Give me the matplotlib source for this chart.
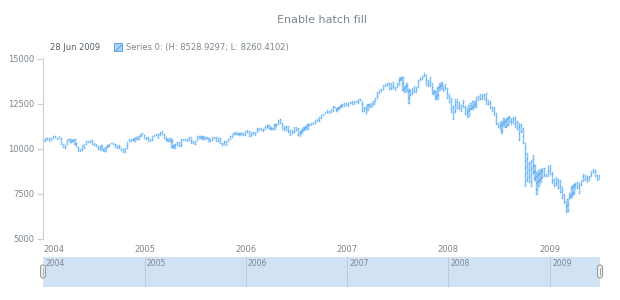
import matplotlib.pyplot as plt
import matplotlib.patches as mpatches
from matplotlib.transforms import IdentityTransform
import numpy as np
import pandas as pd

# weekly high / low values (week start Sunday), Jan 2004 - Jun 2009
highs_2004 = [10490, 10620, 10630, 10600, 10620, 10740, 10720, 10630, 10700, 10600, 10300, 10230, 10480,
              10580, 10530, 10520, 10570, 10320, 10110, 10010, 10200, 10260, 10440, 10440, 10480, 10480,
              10310, 10280, 10180, 10150, 10200, 10000, 10110, 10230, 10290, 10360, 10340, 10300, 10200,
              10240, 10080, 9980, 10040, 10400, 10560, 10580, 10540, 10600, 10640, 10730, 10840, 10870]
lows_2004 = [10380, 10400, 10520, 10410, 10440, 10560, 10600, 10520, 10530, 10210, 10080, 10000, 10200,
             10430, 10330, 10400, 10220, 10110, 9860, 9850, 9900, 10020, 10240, 10320, 10330, 10240,
             10160, 10100, 9950, 9890, 9950, 9810, 9820, 10080, 10120, 10250, 10220, 10040, 9990,
             10010, 9880, 9750, 9750, 10020, 10380, 10400, 10430, 10400, 10480, 10520, 10640, 10760]

highs_2005 = [10800, 10680, 10640, 10530, 10730, 10800, 10840, 10850, 10950, 10980, 10860, 10690, 10560,
              10600, 10560, 10240, 10250, 10400, 10390, 10530, 10540, 10570, 10540, 10650, 10650, 10450,
              10460, 10700, 10710, 10730, 10720, 10680, 10650, 10600, 10530, 10690, 10690, 10680, 10600,
              10590, 10350, 10440, 10420, 10560, 10700, 10780, 10900, 10940, 10900, 10900, 10900, 10900]
lows_2005 = [10580, 10500, 10390, 10370, 10420, 10650, 10700, 10580, 10740, 10780, 10580, 10450, 10400,
             10380, 10080, 10000, 10000, 10180, 10100, 10120, 10440, 10420, 10400, 10470, 10290, 10250,
             10200, 10440, 10560, 10560, 10520, 10480, 10540, 10380, 10380, 10440, 10580, 10370, 10400,
             10280, 10180, 10210, 10150, 10390, 10500, 10620, 10750, 10780, 10760, 10740, 10790, 10700]

highs_2006 = [11020, 11070, 11000, 10930, 10920, 10940, 11140, 11160, 11140, 11100, 11300, 11340, 11340,
              11240, 11180, 11380, 11400, 11600, 11670, 11420, 11300, 11300, 11270, 11050, 11040, 11200,
              11240, 11150, 11020, 11130, 11230, 11260, 11400, 11400, 11470, 11500, 11610, 11640, 11760,
              11870, 11970, 12040, 12170, 12130, 12200, 12370, 12360, 12290, 12360, 12460, 12520, 12530, 12580]
lows_2006 = [10720, 10880, 10660, 10650, 10760, 10710, 10880, 11020, 10990, 10960, 11060, 11160, 11100,
             11050, 11050, 11070, 11210, 11330, 11380, 11080, 11000, 11000, 10880, 10700, 10860, 10900,
             10980, 10730, 10680, 10850, 11020, 11060, 11060, 11250, 11280, 11350, 11380, 11480, 11500,
             11650, 11810, 11920, 11990, 11920, 11980, 12080, 12280, 12050, 12180, 12270, 12340, 12340, 12400]

highs_2007 = [12570, 12630, 12640, 12680, 12680, 12800, 12800, 12650, 12330, 12360, 12500, 12500,
              12580, 12650, 12820, 13170, 13290, 13330, 13570, 13590, 13650, 13690, 13650, 13700, 13450,
              13660, 13920, 14020, 13980, 13480, 13670, 13360, 13300, 13400, 13480, 13460, 13820, 13940, 14080,
              14200, 14100, 13860, 13980, 13670, 13280, 13220, 13420, 13660, 13740, 13490, 13600, 13400]
lows_2007 = [12360, 12500, 12440, 12420, 12560, 12520, 12640, 12050, 12040, 11940, 12100, 12270,
             12350, 12450, 12600, 12800, 13050, 13170, 13250, 13420, 13480, 13300, 13250, 13340, 13230,
             13400, 13490, 13780, 13240, 13130, 13150, 12520, 12970, 13000, 13100, 13100, 13380, 13750, 13830,
             13980, 13500, 13450, 13470, 13030, 12990, 12740, 12740, 13220, 13320, 13180, 13300, 12800]

highs_2008 = [13080, 12850, 12380, 12750, 12750, 12600, 12450, 12700, 12380, 12260, 12420, 12550, 12660,
              12640, 12900, 12930, 13080, 13060, 13040, 13120, 12700, 12680, 12330, 12360, 12000, 11470,
              11500, 11550, 11700, 11650, 11800, 11810, 11720, 11800, 11790, 11530, 11450, 11400, 11150,
              10330, 9800, 9300, 9400, 9650, 9100, 8700, 8850, 8880, 8940, 8940, 8600, 9060]
lows_2008 = [12530, 12000, 11630, 12020, 12200, 12170, 12080, 12250, 11890, 11740, 11760, 12150, 12180,
             12300, 12250, 12650, 12700, 12730, 12740, 12470, 12440, 12200, 12080, 11840, 11340, 11140,
             11050, 10830, 11240, 11150, 11250, 11450, 11350, 11370, 11150, 11030, 10460, 10900, 10300,
             7880, 8180, 8100, 7880, 8600, 8200, 7450, 7900, 8100, 8400, 8470, 8420, 8420]

highs_2009 = [9090, 8700, 8350, 8420, 8320, 8290, 7900, 7500, 7100, 7200, 7550, 7930, 8080,
              8120, 8160, 8100, 8250, 8600, 8560, 8500, 8510, 8800, 8880, 8820, 8560, 8528.9297]
lows_2009 = [8580, 8080, 7900, 7940, 7800, 7550, 7230, 6950, 6470, 6500, 7200, 7250, 7450,
             7780, 7800, 7490, 7920, 8150, 8220, 8130, 8200, 8430, 8650, 8450, 8200, 8260.4102]

highs = np.array(highs_2004 + highs_2005 + highs_2006 + highs_2007 + highs_2008 + highs_2009)
lows = np.array(lows_2004 + lows_2005 + lows_2006 + lows_2007 + lows_2008 + lows_2009)
dates = pd.date_range("2004-01-04", periods=len(highs), freq="7D")

years = [2004, 2005, 2006, 2007, 2008, 2009]
y_ticks = [5000, 7500, 10000, 12500, 15000]

text_col = "#7c868e"
line_col = "#cecece"
bar_fill = "#a9d3f8"
hatch_col = "#4f9fe8"

W, H = 620, 300
fig = plt.figure(figsize=(W / 100, H / 100), dpi=100)
plt.rcParams["hatch.linewidth"] = 0.6

# main plot
ax = fig.add_axes([43 / W, 1 - 239 / H, 557 / W, 180 / H])
xmin = dates[0] - pd.Timedelta(days=3)
xmax = dates[-1] + pd.Timedelta(days=3)
ax.bar(dates, highs - lows, bottom=lows, width=4.5, color=bar_fill,
       edgecolor="#64b5f6", linewidth=0.3)
ax.bar(dates, highs - lows, bottom=lows, width=4.5, fill=False,
       edgecolor=hatch_col, linewidth=0, hatch="/////")
ax.set_xlim(xmin, xmax)
ax.set_ylim(5000, 15000)
for s in ["top", "right", "bottom"]:
    ax.spines[s].set_visible(False)
ax.spines["left"].set_color(line_col)
ax.spines["left"].set_linewidth(0.8)
ax.set_yticks(y_ticks)
ax.set_yticklabels([str(v) for v in y_ticks])
ax.tick_params(axis="y", colors=line_col, labelcolor=text_col, labelsize=6,
               length=4, width=0.8, pad=2)
year_pos = [pd.Timestamp(f"{y}-01-01") for y in years]
ax.set_xticks(year_pos)
ax.set_xticklabels([str(y) for y in years])
ax.tick_params(axis="x", colors=line_col, labelcolor=text_col, labelsize=6,
               length=0, pad=4)
ax.get_xticklabels()[0].set_horizontalalignment("left")
ax.patch.set_alpha(0)

# scroller
sc = fig.add_axes([43 / W, 1 - 287 / H, 557 / W, 30 / H])
sc.set_xlim(xmin, xmax)
sc.set_ylim(0, 1)
sc.set_facecolor("#d2e2f5")
for s in sc.spines.values():
    s.set_visible(False)
sc.set_xticks([])
sc.set_yticks([])
for y, p in zip(years, year_pos):
    if y > 2004:
        sc.axvline(p, color="#b9c6d4", lw=0.6)
    sc.text(p + pd.Timedelta(days=8), 0.93, str(y), fontsize=5.5, color=text_col,
            ha="left", va="top")
sc.axhline(0, color="#c4cfdc", lw=0.8)

# scroller handles (pixel coords)
for hx in [43, 600]:
    fig.patches.append(mpatches.FancyBboxPatch(
        (hx - 2.5, H - 278), 5, 13, boxstyle="round,pad=0,rounding_size=2.5",
        transform=IdentityTransform(), facecolor="#f2f2f2", edgecolor="#9a9a9a",
        linewidth=0.8))
    fig.lines.append(plt.Line2D([hx, hx], [H - 275, H - 268], transform=IdentityTransform(),
                                color="#9a9a9a", lw=0.6))

# title and legend
fig.text(322 / W, 1 - 20 / H, "Enable hatch fill", ha="center", va="center",
         fontsize=8, color=text_col)
fig.text(50 / W, 1 - 47 / H, dates[-1].strftime("%d %b %Y"), ha="left", va="center",
         fontsize=6, color="#545f69")
fig.patches.append(mpatches.Rectangle((114, H - 51), 8, 8, transform=IdentityTransform(),
                                      facecolor=bar_fill, edgecolor=hatch_col,
                                      hatch="////", linewidth=0.6))
fig.text(126 / W, 1 - 47 / H,
         f"Series 0: (H: {highs[-1]:.4f}; L: {lows[-1]:.4f})",
         ha="left", va="center", fontsize=6, color=text_col)

fig.savefig("out.png", dpi=100)
